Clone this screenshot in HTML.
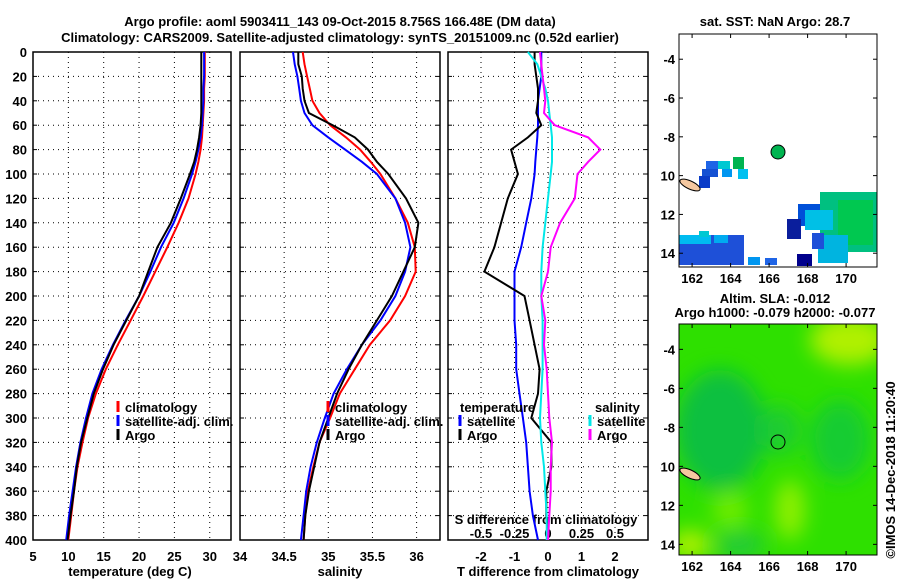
<!DOCTYPE html>
<html><head><meta charset="utf-8"><style>
body{margin:0;background:#fff;}
svg text{font-family:"Liberation Sans",sans-serif;font-weight:bold;font-size:13px;fill:#000;}
</style></head><body>
<svg id="s" width="900" height="580" viewBox="0 0 900 580" xmlns="http://www.w3.org/2000/svg">
<text x="340" y="26" text-anchor="middle" font-size="14">Argo profile: aoml 5903411_143 09-Oct-2015 8.756S 166.48E (DM data)</text>
<text x="340" y="42" text-anchor="middle" font-size="14">Climatology: CARS2009. Satellite-adjusted climatology: synTS_20151009.nc (0.52d earlier)</text>
<g id="maps">
<svg x="660" y="0" width="240" height="580" overflow="hidden">
<g transform="translate(-660,0)">
<text x="775" y="26" text-anchor="middle">sat. SST: NaN Argo: 28.7</text>
<g>
<rect x="679" y="34" width="198" height="233" fill="#fff"/>
<rect x="706" y="161" width="12" height="8" fill="#1e64e6"/><rect x="718" y="161" width="12" height="8" fill="#00c8d2"/>
<rect x="733" y="157" width="11" height="12" fill="#00b450"/><rect x="702" y="169" width="16" height="8" fill="#1450d2"/>
<rect x="722" y="169" width="10" height="8" fill="#0096f0"/><rect x="738" y="169" width="10" height="10" fill="#00c0f0"/>
<rect x="699" y="176" width="11" height="12" fill="#0a3cc8"/>
<rect x="679" y="235" width="65" height="30" fill="#1e50d8"/><rect x="679" y="235" width="32" height="9" fill="#00bcf0"/>
<rect x="699" y="231" width="10" height="6" fill="#00c8d2"/><rect x="714" y="235" width="14" height="8" fill="#00aaf0"/>
<rect x="748" y="257" width="12" height="8" fill="#0096f0"/><rect x="765" y="258" width="12" height="7" fill="#1e64e6"/>
<rect x="820" y="192" width="57" height="60" fill="#00c080"/><rect x="838" y="200" width="35" height="45" fill="#00c850"/>
<rect x="798" y="204" width="22" height="22" fill="#0050d8"/><rect x="805" y="210" width="28" height="20" fill="#00c0e6"/>
<rect x="787" y="219" width="14" height="20" fill="#0a1e9c"/><rect x="818" y="235" width="30" height="28" fill="#00b4e0"/>
<rect x="812" y="233" width="12" height="16" fill="#1e50d8"/><rect x="797" y="254" width="15" height="12" fill="#00008c"/>
<ellipse cx="690" cy="185" rx="11" ry="4" transform="rotate(25 690 185)" fill="#f5c8a0" stroke="#000"/>
<circle cx="778" cy="152" r="7" fill="#00b450" stroke="#000"/>
<rect x="679" y="34" width="198" height="233" fill="none" stroke="#000"/>
</g>
<text x="775" y="303" text-anchor="middle">Altim. SLA: -0.012</text>
<text x="775" y="317" text-anchor="middle">Argo h1000: -0.079 h2000: -0.077</text>
<g>
<defs><filter id="bl"><feGaussianBlur stdDeviation="10"/></filter><clipPath id="c2"><rect x="679" y="324" width="198" height="231"/></clipPath></defs>
<rect x="679" y="324" width="198" height="231" fill="#2ee000"/>
<g clip-path="url(#c2)" filter="url(#bl)">
<ellipse cx="720" cy="430" rx="45" ry="60" fill="#10c040"/>
<ellipse cx="840" cy="440" rx="30" ry="40" fill="#18cc30"/>
<ellipse cx="780" cy="430" rx="20" ry="25" fill="#1ccc30"/>
<ellipse cx="850" cy="340" rx="40" ry="25" fill="#b0f000"/>
<ellipse cx="790" cy="510" rx="15" ry="30" fill="#90f000"/>
<ellipse cx="730" cy="510" rx="18" ry="18" fill="#70ec00"/>
<ellipse cx="690" cy="545" rx="20" ry="15" fill="#b0f000"/>
<ellipse cx="740" cy="545" rx="25" ry="12" fill="#20c840"/>
</g>
<ellipse cx="690" cy="474" rx="11" ry="4" transform="rotate(25 690 474)" fill="#f5c8a0" stroke="#000"/>
<circle cx="778" cy="442" r="7" fill="none" stroke="#000"/>
<rect x="679" y="324" width="198" height="231" fill="none" stroke="#000"/>
</g>
<g id="mapticks"></g>
<text transform="translate(895,470) rotate(-90)" text-anchor="middle" font-weight="normal" font-size="13">©IMOS 14-Dec-2018 11:20:40</text>
</g></svg>
</g>
<g id="plots"></g>
</svg>
<script>
const depths=[0,10,20,30,40,50,60,70,80,90,100,120,140,160,180,200,220,240,260,280,300,320,340,360,380,400];
const tempClim=[29.3,29.3,29.3,29.2,29.2,29.1,29.0,28.9,28.7,28.4,28.0,27.0,25.6,24.0,22.3,20.6,18.8,17.0,15.3,13.9,12.8,12.0,11.3,10.8,10.4,10.0];
const tempSat=[29.2,29.2,29.2,29.1,29.1,29.0,28.9,28.7,28.4,28.0,27.5,26.3,24.9,23.1,21.6,20.0,18.1,16.3,14.7,13.4,12.5,11.7,11.1,10.6,10.1,9.7];
const tempArgo=[28.8,28.8,28.8,28.8,28.8,28.8,28.7,28.5,28.2,27.8,27.2,25.9,24.5,22.6,21.3,20.0,18.2,16.4,14.9,13.6,12.7,11.8,11.2,10.8,10.3,9.9];
const salClim=[34.71,34.73,34.76,34.79,34.82,34.9,35.02,35.2,35.36,35.48,35.59,35.76,35.9,35.98,35.99,35.87,35.7,35.47,35.3,35.13,35.02,34.9,34.83,34.77,34.74,34.72];
const salSat=[34.6,34.62,34.65,34.67,34.69,34.73,34.82,35.0,35.19,35.38,35.55,35.76,35.87,35.93,35.87,35.76,35.59,35.38,35.21,35.06,34.96,34.87,34.8,34.75,34.72,34.69];
const salArgo=[34.66,34.66,34.7,34.71,34.73,34.78,35.05,35.3,35.45,35.55,35.68,35.88,36.02,35.98,35.85,35.72,35.55,35.38,35.23,35.1,35.0,34.9,34.84,34.78,34.74,34.72];
const tdiffSat=[-0.2,-0.2,-0.2,-0.25,-0.3,-0.3,-0.3,-0.32,-0.35,-0.38,-0.4,-0.5,-0.65,-0.8,-1.0,-1.0,-1.0,-0.95,-0.95,-0.85,-0.75,-0.65,-0.6,-0.55,-0.45,-0.3];
const tdiffArgo=[-0.4,-0.4,-0.35,-0.3,-0.3,-0.35,-0.2,-0.6,-1.1,-1.0,-0.9,-1.2,-1.4,-1.6,-1.9,-0.7,-0.55,-0.4,-0.25,-0.3,-0.5,0.1,0.1,-0.05,-0.05,0];
const sdiffSat=[-0.15,-0.08,-0.05,-0.02,0,0.01,0.02,0.03,0.03,0.03,0.02,0,-0.02,-0.04,-0.05,-0.05,-0.04,-0.04,-0.04,-0.05,-0.06,-0.05,-0.03,-0.02,-0.01,-0.01];
const sdiffArgo=[-0.06,-0.05,-0.04,-0.03,-0.02,-0.03,0.05,0.3,0.39,0.3,0.22,0.2,0.09,0.02,0,-0.05,-0.02,-0.03,-0.01,0,0.01,0.03,0.02,0.02,0.01,0.0];
const depthTicks=[0,20,40,60,80,100,120,140,160,180,200,220,240,260,280,300,320,340,360,380,400];
const tempTicks=[5,10,15,20,25,30];
const salTicks=[34,34.5,35,35.5,36];
const tdTicks=[-2,-1,0,1,2];
const sdTicks=[-0.5,-0.25,0,0.25,0.5];
const latTicks=[-4,-6,-8,-10,-12,-14];
const lonTicks=[162,164,166,168,170];

const NS='http://www.w3.org/2000/svg';
const G=document.getElementById('plots');
function mk(tag,at,par){const e=document.createElementNS(NS,tag);for(const k in at)e.setAttribute(k,at[k]);(par||G).appendChild(e);return e;}
function txt(x,y,s,anchor,par){const e=mk('text',{x:x,y:y,'text-anchor':anchor||'middle'},par);e.textContent=s;return e;}
const Y0=52,Y1=540;
const yD=d=>Y0+d*(Y1-Y0)/400;
const xT=t=>33+(t-5)*7.07;
const xS=s=>240+(s-34)*88.3;
const xTD=t=>548+t*33.5;
const xSD=s=>548+s*4*33.5;
const panels=[[33,231,tempTicks.slice(1).map(xT)],[240,440,salTicks.slice(1).map(xS)],[448,648,tdTicks.map(xTD)]];
panels.forEach((p,i)=>{
  const g=mk('g',{});
  
  
  p[2].forEach(x=>mk('line',{x1:x,x2:x,y1:Y0,y2:Y1,stroke:'#000','stroke-dasharray':'1,4'},g));
  depthTicks.slice(1,-1).forEach(d=>{
    mk('line',{x1:p[0],x2:p[1],y1:yD(d),y2:yD(d),stroke:'#000','stroke-dasharray':'1,4'},g);
    mk('line',{x1:p[0],x2:p[0]+4,y1:yD(d),y2:yD(d),stroke:'#000'},g);
    mk('line',{x1:p[1]-4,x2:p[1],y1:yD(d),y2:yD(d),stroke:'#000'},g);
  });
  mk('rect',{x:p[0],y:Y0,width:p[1]-p[0],height:Y1-Y0,fill:'none',stroke:'#000','stroke-width':1.5},g);
});
depthTicks.forEach(d=>{const t=txt(27,yD(d)+5,String(d),'end');});
tempTicks.forEach(v=>{const t=txt(xT(v),561,String(v));});
salTicks.forEach(v=>{const t=txt(xS(v),561,String(v));});
tdTicks.forEach(v=>{const t=txt(xTD(v),561,String(v));});
sdTicks.forEach(v=>{const t=txt(xSD(v),538,String(v));});
let a;
a=txt(130,576,'temperature (deg C)');
a=txt(340,576,'salinity');
a=txt(548,576,'T difference from climatology');
a=txt(546,524,'S difference from climatology');
function line(vals,xf,col,name){
  const pts=vals.map((v,i)=>xf(v).toFixed(1)+','+yD(depths[i]).toFixed(1)).join(' ');
  const e=mk('polyline',{points:pts,fill:'none',stroke:col,'stroke-width':2});
  
  
}
line(tempClim,xT,'#ff0000','temp-climatology-line');
line(tempSat,xT,'#0000ff','temp-satellite-line');
line(tempArgo,xT,'#000000','temp-argo-line');
line(salClim,xS,'#ff0000','sal-climatology-line');
line(salSat,xS,'#0000ff','sal-satellite-line');
line(salArgo,xS,'#000000','sal-argo-line');
line(tdiffSat,xTD,'#0000ff','tdiff-satellite-line');
line(tdiffArgo,xTD,'#000000','tdiff-argo-line');
line(sdiffSat,xSD,'#00e8e8','sdiff-satellite-line');
line(sdiffArgo,xSD,'#ff00ff','sdiff-argo-line');
function legend(x,y,col,label){
  const g=mk('g',{});
  
  
  if(col)mk('rect',{x:x-1.5,y:y-11,width:3,height:11,fill:col},g);
  txt(x+7,y,label,'start',g);
}
legend(118,412,'#ff0000','climatology');legend(118,426,'#0000ff','satellite-adj. clim.');legend(118,440,'#000','Argo');
legend(328,412,'#ff0000','climatology');legend(328,426,'#0000ff','satellite-adj. clim.');legend(328,440,'#000','Argo');
legend(453,412,null,'temperature');legend(460,426,'#0000ff','satellite');legend(460,440,'#000','Argo');
legend(588,412,null,'salinity');legend(590,426,'#00e8e8','satellite');legend(590,440,'#ff00ff','Argo');
// map ticks
const MT=document.getElementById('mapticks');
const yLat1=l=>34+(-2.7-l)*19.4, yLat2=l=>324+(-2.7-l)*19.5;
const xLon=l=>679+(l-161.32)*19.25;
[[34,267,yLat1],[324,555,yLat2]].forEach(m=>{
  latTicks.forEach(l=>{
    const y=m[2](l);
    mk('line',{x1:679,x2:683,y1:y,y2:y,stroke:'#000'},MT);
    mk('line',{x1:873,x2:877,y1:y,y2:y,stroke:'#000'},MT);
    const t=txt(675,y+5,String(l),'end',MT);
    
    
  });
  lonTicks.forEach(l=>{
    const x=xLon(l);
    mk('line',{x1:x,x2:x,y1:m[0],y2:m[0]+4,stroke:'#000'},MT);
    mk('line',{x1:x,x2:x,y1:m[1]-4,y2:m[1],stroke:'#000'},MT);
    const t=txt(x,m[1]+16,String(l),'middle',MT);
    
    
  });
});
</script>
</body></html>
